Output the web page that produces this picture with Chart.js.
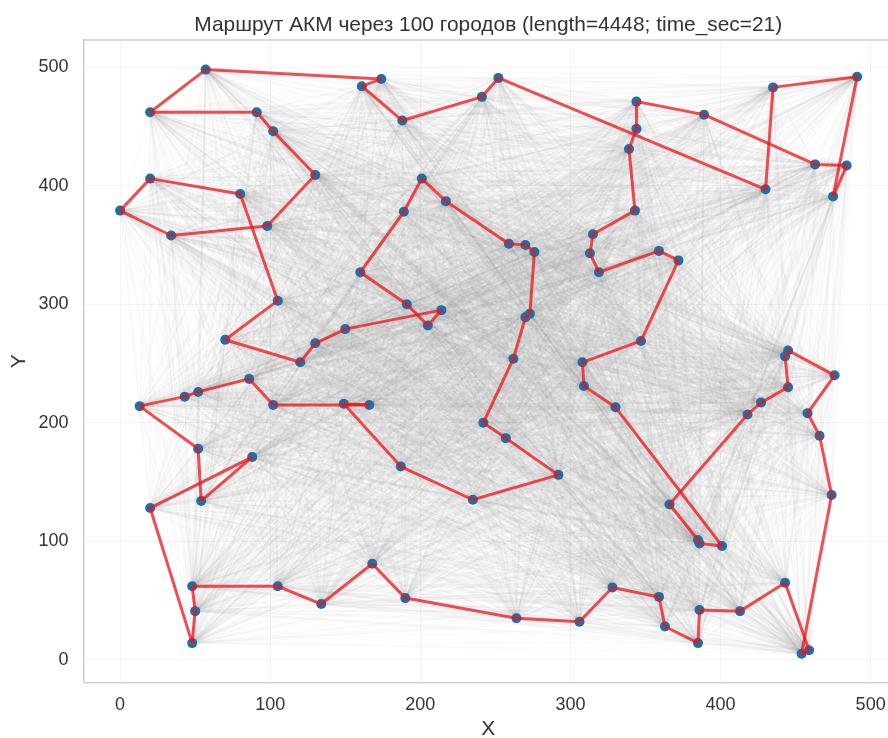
<!DOCTYPE html>
<html>
  <head>
    <meta charset="utf-8">
    <script src="https://cdn.jsdelivr.net/npm/chart.js@4"></script>
    <style>
      html, body { margin: 0; padding: 0; background: #fff; overflow: hidden; }
      #wrap { width: 888px; height: 738px; overflow: hidden; }
      canvas { display: block; filter: blur(0.4px); }
    </style>
  </head>
  <body>
    <div id="wrap"><canvas id="output" width="898" height="738"></canvas></div>

    <script>
      // City coordinates, listed in the order the route visits them
      var cityX = [0, 20, 80, 105, 70, 120, 130, 150, 214, 205, 191, 160, 189, 201, 217, 259, 270, 276, 273, 270,
                   262, 242, 257, 292, 235, 187, 149, 166, 102, 86, 52, 43, 13, 52, 54, 88, 20, 48, 50, 48,
                   105, 134, 168, 190, 264, 306, 328, 359, 363, 385, 386, 413, 443, 459, 454, 474, 466, 458, 476, 445,
                   443, 445, 427, 418, 366, 385, 386, 401, 330, 309, 308, 347, 372, 359, 319, 313, 315, 343, 339, 344,
                   344, 389, 463, 484, 475, 491, 435, 430, 252, 241, 188, 161, 174, 57, 20, 91, 102, 130, 98, 34];
      var cityY = [379, 406, 393, 303, 270, 251, 267, 279, 295, 282, 300, 327, 378, 406, 387, 351, 350, 344, 292, 289,
                   254, 200, 187, 156, 135, 163, 216, 215, 215, 237, 226, 222, 214, 178, 134, 171, 128, 14, 41, 62,
                   62, 47, 81, 52, 35, 32, 61, 53, 28, 14, 42, 41, 65, 8, 5, 139, 189, 208, 240, 261,
                   256, 230, 217, 207, 131, 101, 98, 96, 213, 231, 251, 269, 337, 345, 327, 343, 359, 379, 431, 448,
                   471, 460, 418, 417, 391, 492, 483, 397, 491, 475, 455, 484, 490, 498, 462, 462, 446, 409, 366, 358];
      var titleText = 'Маршрут АКМ через 100 городов (length=4448; time_sec=21)';

      var textColor = '#333333';
      var fontName = '"Liberation Sans", Arial, sans-serif';

      function segment(i, j, color, width, order) {
        return {
          data: [{ x: cityX[i], y: cityY[i] }, { x: cityX[j], y: cityY[j] }],
          showLine: true,
          borderColor: color,
          borderWidth: width,
          pointRadius: 0,
          order: order
        };
      }

      var datasets = [];

      // Every pair of cities gets its own faint line so the alpha builds up
      for (var i = 0; i < cityX.length; i++) {
        for (var j = i + 1; j < cityX.length; j++) {
          datasets.push(segment(i, j, 'rgba(128,128,128,0.03)', 1.5, 3));
        }
      }

      datasets.push({
        data: cityX.map(function (x, k) { return { x: x, y: cityY[k] }; }),
        pointRadius: 5,
        pointBackgroundColor: '#1f6fa5',
        pointBorderWidth: 0,
        order: 2
      });

      // Route segments, closing back to the first city
      for (var k = 0; k < cityX.length; k++) {
        datasets.push(segment(k, (k + 1) % cityX.length, 'rgba(235,20,25,0.75)', 3, 1));
      }

      // Top edge of the frame
      var topEdge = {
        id: 'topEdge',
        afterDraw: function (chart) {
          var c = chart.ctx, a = chart.chartArea;
          c.save();
          c.strokeStyle = '#cfcfcf';
          c.lineWidth = 1.5;
          c.beginPath();
          c.moveTo(a.left, a.top);
          c.lineTo(a.right, a.top);
          c.stroke();
          c.restore();
        }
      };

      var ctx = document.getElementById('output').getContext('2d');
      var myChart = new Chart(ctx, {
        type: 'scatter',
        data: { datasets: datasets },
        plugins: [topEdge],
        options: {
          responsive: false,
          animation: false,
          events: [],
          layout: { padding: 0 },
          plugins: {
            legend: { display: false },
            tooltip: { enabled: false },
            title: {
              display: true,
              fullSize: false,
              text: titleText,
              color: textColor,
              font: { family: fontName, size: 20.9, weight: 'normal', lineHeight: 1.2 },
              padding: { top: 12.5, bottom: 2.4 }
            }
          },
          scales: {
            x: {
              type: 'linear',
              min: -24.4,
              max: 514.9,
              afterFit: function (s) { s.height = 55.3; },
              border: { color: '#cfcfcf', width: 1.5 },
              grid: { color: 'rgba(200,200,200,0.2)', tickLength: 12, tickColor: 'transparent' },
              ticks: {
                stepSize: 100,
                includeBounds: false,
                maxRotation: 0,
                padding: 0,
                color: textColor,
                font: { family: fontName, size: 18 }
              },
              title: {
                display: true,
                text: 'X',
                color: textColor,
                font: { family: fontName, size: 21, lineHeight: 0.8 },
                padding: { top: 0, bottom: 0 }
              }
            },
            y: {
              type: 'linear',
              min: -19.4,
              max: 523,
              afterFit: function (s) { s.width = 83.5; },
              border: { color: '#cfcfcf', width: 1.5 },
              grid: { color: 'rgba(200,200,200,0.2)', tickLength: 15, tickColor: 'transparent' },
              ticks: {
                stepSize: 100,
                includeBounds: false,
                padding: 0,
                color: textColor,
                font: { family: fontName, size: 18 }
              },
              title: {
                display: true,
                text: 'Y',
                color: textColor,
                font: { family: fontName, size: 21 },
                padding: { top: 7, bottom: 0 }
              }
            }
          }
        }
      });
    </script>
  </body>
</html>
